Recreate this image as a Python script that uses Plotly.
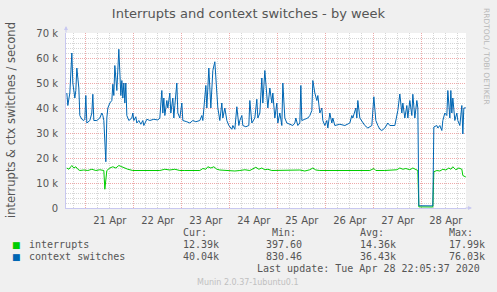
import plotly.graph_objects as go
import pandas as pd

# ---------------- data (hours relative to 2020-04-21 00:00, values in thousands/s) -------------
BASE = "2020-04-21 00:00"

ctx_hours = [-9.5, -9, -8, -7.5, -7, -6.5, -5.5, -5, -4.5, -3.5, -3, -2, -1, -0.5, 0, 0.5, 2, 3, 3.5, 4,
             5.5, 7, 8, 8.5, 9, 10, 10.5, 11, 12, 13, 13.5, 14, 14.5, 15.5, 16, 16.5, 17.5, 18, 18.5, 19,
             19.5, 20, 20.5, 21.5, 23, 23.5, 24, 25, 25.5, 26.5, 27.5, 28.5, 29, 30.5, 32, 34, 36, 37, 38, 38.5,
             39, 39.5, 40.5, 41, 42, 42.5, 43.5, 44, 44.5, 45.5, 46, 47, 48, 48.5, 50.5, 52, 53.5, 55, 57, 58,
             58.5, 60, 60.5, 61.5, 62.5, 63, 63.5, 64.5, 65.5, 66, 67, 68, 68.5, 69.5, 70.5, 71.5, 73, 73.5, 74.5, 75.5,
             76.5, 77, 78, 78.5, 80, 81.5, 82, 83, 84.5, 85.5, 86, 87, 88, 88.5, 89.5, 90.5, 91, 92, 93, 93.5,
             94.5, 95.5, 96, 97, 98, 98.5, 99.5, 100.5, 102, 103.5, 104.5, 105, 106, 107, 107.5, 108, 109.5, 111, 112, 113,
             113.5, 114.5, 115.5, 116, 117, 118, 118.5, 119.5, 120.5, 121, 122, 123, 123.5, 124.5, 127, 129.5, 132, 133, 133.5, 135,
             135.5, 136, 137, 138.5, 139.5, 141, 143, 144, 145, 146, 147, 148, 149.5, 151, 152, 154.5, 155.5, 156, 157, 158,
             158.5, 159.5, 160.5, 161, 162, 163, 163.5, 164.5, 165.5, 166, 166.5, 173.5, 174, 175.5, 176, 177, 178, 178.5, 179.5, 180.5,
             181, 182, 182.5, 183, 183.5, 184.5, 185.5, 186, 187, 188, 188.5, 189, 190]
ctx_values = [46, 41, 46, 58, 62, 50, 44, 47, 56, 48, 37, 35.5, 35, 35.5, 45, 34, 35, 38, 45.5, 35,
              35, 36, 38, 37, 35, 18.5, 36, 40, 42, 43, 49.5, 45, 57, 47, 54, 63.5, 45, 51, 44, 50,
              42, 50, 37, 35, 36, 38, 35, 36.5, 34, 35, 33.5, 35, 33, 35.5, 35, 35.5, 35.2, 36, 47, 38,
              44, 37, 43, 40, 46, 38, 44, 36, 41, 50, 38, 36, 42, 35, 34.5, 34, 35, 34.5, 35, 37,
              35, 49, 40, 56, 40, 46, 55, 58.5, 47, 40, 35, 42, 36, 40, 35, 33, 31.5, 33, 31.5, 40.5,
              33, 35, 37, 33, 32.5, 33, 43, 34, 36, 43.5, 36, 38, 52, 42, 55, 45, 40, 48, 42, 46,
              36, 42, 34, 38, 33, 50, 36, 34, 33.5, 33, 34, 36, 33, 34, 49, 35, 35.5, 36, 37, 39,
              51, 46, 43, 45, 38, 40, 35, 33, 35, 32, 38, 34, 36, 33, 33.5, 33, 34, 37, 36, 40,
              36, 43, 36, 34, 33, 32, 33, 44.5, 35, 33, 31.5, 31, 32, 34, 33, 33, 37, 39, 45.6, 38,
              42, 36, 41, 36, 43, 37, 45.5, 36, 43, 40, 0.9, 0.85, 32.4, 33, 32, 33, 31, 35, 38, 37,
              47, 36, 47, 38, 44, 35, 38, 35, 33, 41, 29.6, 40, 40.04]

irq_hours = [-9.5, -8.5, -7.5, -7, -6, -5, -4, -3, -1, 1, 3, 5, 7, 9, 9.5, 10.5, 12, 13.5, 15, 16.5,
             18, 19.5, 21, 23.5, 27, 29.5, 32, 34.5, 37, 39.5, 42, 44.5, 47, 49.5, 52, 54.5, 57, 58.5, 60, 61,
             62.5, 64, 65.5, 67, 69.5, 72, 74.5, 77, 79.5, 82, 83.5, 85, 86.5, 88, 89.5, 91, 93, 95.5, 98.5, 101,
             103.5, 107, 109.5, 112, 113.5, 115, 117, 122, 127, 132, 137, 142, 144, 145, 149.5, 152, 154.5, 155.5, 157, 158.5,
             160, 162, 163.5, 165, 166, 166.5, 173.5, 174, 175.5, 177, 178.5, 180, 181.5, 182.5, 183.5, 185, 186.5, 188, 188.5, 190]
irq_values = [16, 15.5, 16.5, 17, 16, 16.5, 15.5, 15, 15.2, 15, 15.5, 15, 15.3, 15, 7.5, 15, 16, 16.5, 16, 17,
              16.5, 16, 15.5, 15, 15, 15.3, 15, 15.2, 15, 15.5, 15.2, 15.5, 15, 15, 15, 15, 15, 15.8, 15.5, 16.5,
              16, 16.5, 15.5, 15.2, 15, 15, 14.8, 15, 15.3, 15, 15.5, 16.3, 15.5, 16, 15.3, 15.5, 15, 15, 15.3, 15,
              15, 15.2, 14.8, 15.3, 16, 15.2, 15, 15, 15, 15, 15, 15, 15.8, 15, 15, 15, 15, 15.3, 16, 15.5,
              15.8, 15.3, 16, 15.5, 15, 0.45, 0.4, 14.5, 15, 14.8, 15.5, 15.2, 16, 15.5, 16.5, 15.3, 16, 15.5, 13, 12.39]

series_names = ["interrupts", "context switches"]
series_colors = ["#00CC00", "#0066B3"]
cur_vals = ["12.39k", "40.04k"]
min_vals = ["397.60", "830.46"]
avg_vals = ["14.36k", "36.43k"]
max_vals = ["17.99k", "76.03k"]

y_tickvals = [0, 10000, 20000, 30000, 40000, 50000, 60000, 70000]
y_ticktext = ["0", "10 k", "20 k", "30 k", "40 k", "50 k", "60 k", "70 k"]

range_start = "2020-04-20 14:05"
range_end = "2020-04-28 22:05"

# ---------------- figure -------------------
W, H = 497, 292
L, R, T, B = 66, 31, 33, 84
PW, PH = W - L - R, H - T - B


def px(x):
    return (x - L) / PW


def py(y):
    return (H - B - y) / PH


base = pd.Timestamp(BASE)
ctx_t = [base + pd.Timedelta(hours=h) for h in ctx_hours]
irq_t = [base + pd.Timedelta(hours=h) for h in irq_hours]

fig = go.Figure()
fig.add_trace(go.Scatter(x=irq_t, y=[v * 1000 for v in irq_values], mode="lines",
                         line=dict(color=series_colors[0], width=1), name=series_names[0]))
fig.add_trace(go.Scatter(x=ctx_t, y=[v * 1000 for v in ctx_values], mode="lines",
                         line=dict(color=series_colors[1], width=1), name=series_names[1]))

FONT = "DejaVu Sans"
MONO = "DejaVu Sans Mono"
GREY = "#555555"
MAJOR = "#eeaaaa"
MINOR = "#d6d6d6"
AXIS = "#c8c8f0"

fig.update_layout(
    width=W, height=H,
    margin=dict(l=L, r=R, t=T, b=B, autoexpand=False),
    paper_bgcolor="#F0F0F0", plot_bgcolor="#FFFFFF",
    showlegend=False,
    font=dict(family=FONT, size=10, color=GREY),
    title=dict(text="Interrupts and context switches - by week", xref="container", x=0.5,
               xanchor="center", yref="container", y=1 - 13 / H, yanchor="middle",
               font=dict(family=FONT, size=13, color=GREY)),
    xaxis=dict(type="date", range=[range_start, range_end], tickformat="%d %b",
               dtick=86400000, tick0="2020-04-21", ticklabelmode="period",
               showgrid=True, gridcolor=MAJOR, griddash="1px,1px", gridwidth=1,
               minor=dict(dtick=6 * 3600000, showgrid=True, gridcolor=MINOR, griddash="1px,1px", gridwidth=1),
               showline=True, linecolor=AXIS, linewidth=1, zeroline=False,
               ticks="", ticklabelstandoff=3, tickfont=dict(family=FONT, size=10, color=GREY), automargin=False),
    yaxis=dict(range=[0, 70000], tickvals=y_tickvals, ticktext=y_ticktext,
               showgrid=True, gridcolor=MAJOR, griddash="1px,1px", gridwidth=1,
               minor=dict(dtick=2000, tick0=0, showgrid=True, gridcolor=MINOR, griddash="1px,1px", gridwidth=1),
               showline=True, linecolor=AXIS, linewidth=1, zeroline=False,
               ticks="", ticklabelstandoff=5, tickfont=dict(family=FONT, size=10, color=GREY),
               automargin=False),
)

ann = []
ann.append(dict(text="interrupts & ctx switches / second", x=px(11), y=py(120), xref="paper", yref="paper",
                textangle=-90, showarrow=False, font=dict(family=FONT, size=11.5, color=GREY),
                xanchor="center", yanchor="middle"))
ann.append(dict(text="RRDTOOL / TOBI OETIKER", x=px(487), y=py(56), xref="paper", yref="paper",
                textangle=90, showarrow=False, font=dict(family=FONT, size=7.5, color="#b8b8b8"),
                xanchor="center", yanchor="middle"))
ann.append(dict(text="Munin 2.0.37-1ubuntu0.1", x=px(248), y=py(282), xref="paper", yref="paper",
                showarrow=False, font=dict(family=FONT, size=8, color="#c0c0c0"),
                xanchor="center", yanchor="middle"))


def mono(text, x, y, anchor="left"):
    ann.append(dict(text=text, x=px(x), y=py(y), xref="paper", yref="paper", showarrow=False,
                    font=dict(family=MONO, size=10, color=GREY), xanchor=anchor, yanchor="middle"))


mono("Cur:", 181, 232.5)
mono("Min:", 270, 232.5)
mono("Avg:", 358, 232.5)
mono("Max:", 447, 232.5)
rows_y = [244.5, 256.5]
for i in range(2):
    mono(series_names[i], 27, rows_y[i])
    mono(cur_vals[i], 181, rows_y[i])
    mono(min_vals[i], 264, rows_y[i])
    mono(avg_vals[i], 358, rows_y[i])
    mono(max_vals[i], 447, rows_y[i])
    ann.append(dict(text="■", x=px(16.5), y=py(rows_y[i]), xref="paper", yref="paper", showarrow=False,
                    font=dict(family=FONT, size=9, color=series_colors[i]), xanchor="center", yanchor="middle"))
mono("Last update: Tue Apr 28 22:05:37 2020", 482, 268.3, anchor="right")

# axis arrows
ann.append(dict(x=px(66), y=py(26), xref="paper", yref="paper", ax=0, ay=8, axref="pixel", ayref="pixel",
                showarrow=True, arrowhead=2, arrowsize=0.8, arrowwidth=1, arrowcolor=AXIS, text=""))
ann.append(dict(x=px(472), y=py(208), xref="paper", yref="paper", ax=-8, ay=0, axref="pixel", ayref="pixel",
                showarrow=True, arrowhead=2, arrowsize=0.8, arrowwidth=1, arrowcolor=AXIS, text=""))

fig.update_layout(annotations=ann)
fig.write_html("out.html")
